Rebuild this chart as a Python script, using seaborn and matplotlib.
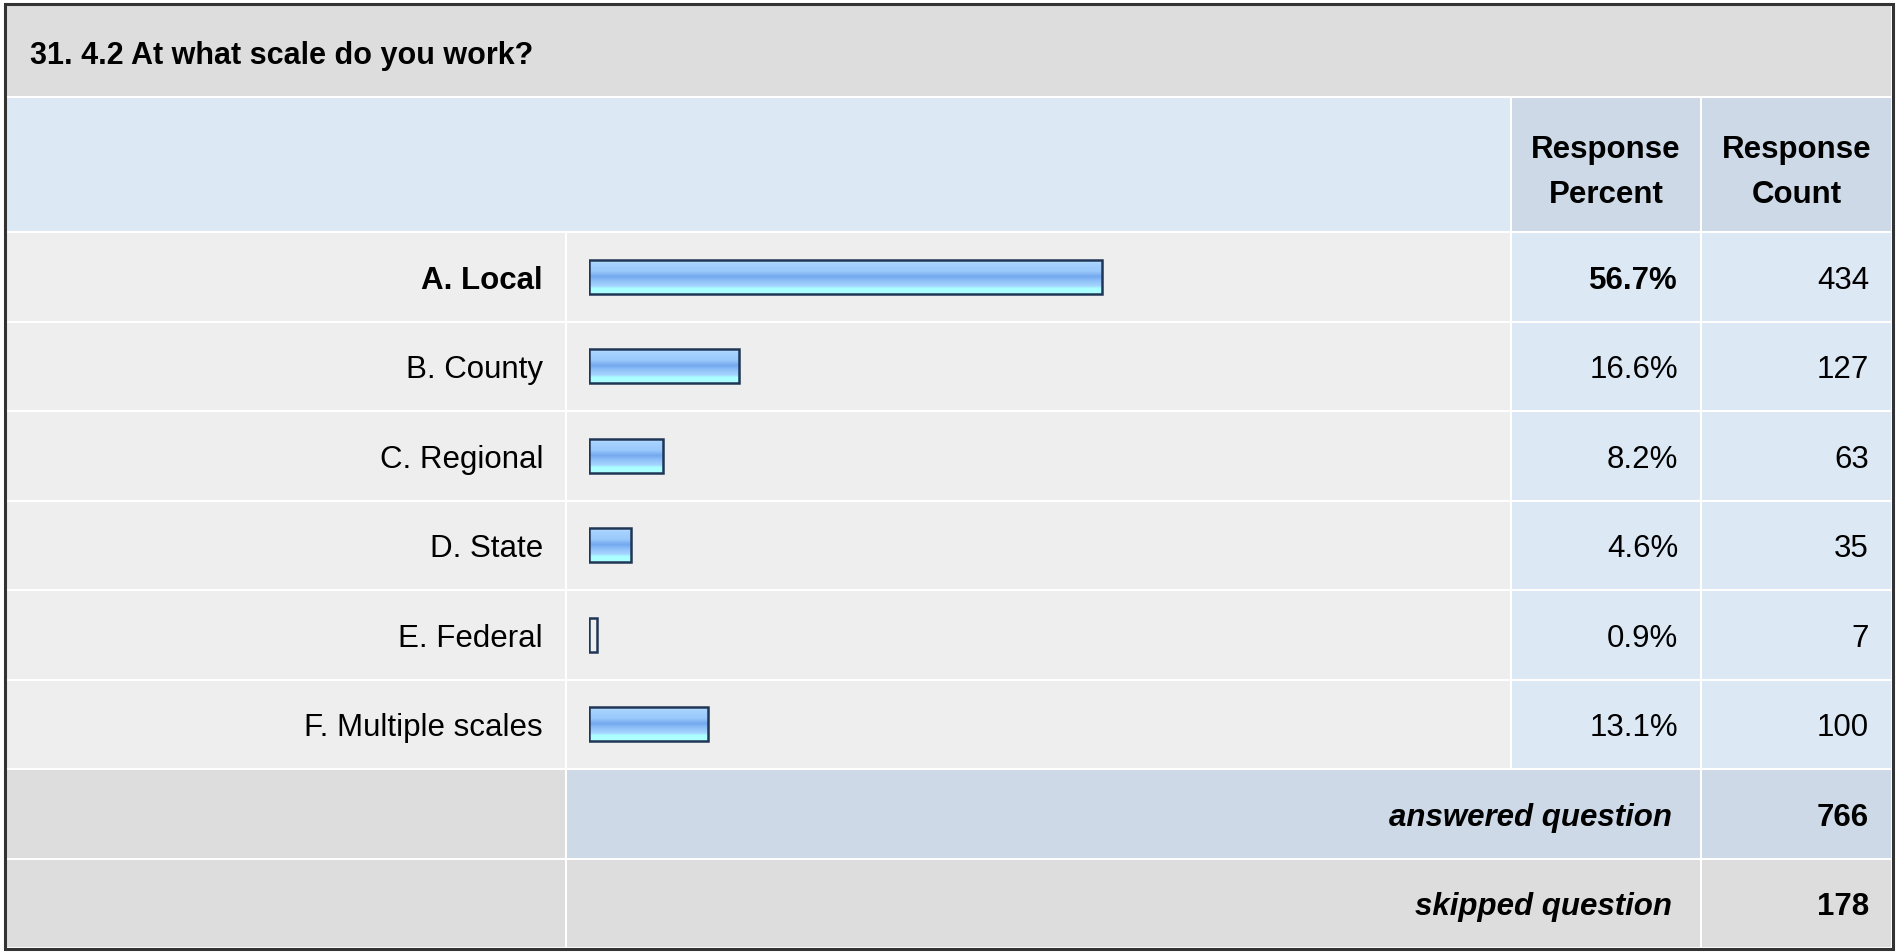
import matplotlib
matplotlib.use("Agg")
import numpy as np
import matplotlib.pyplot as plt
from matplotlib.patches import Rectangle
from matplotlib.colors import to_rgb
import seaborn as sns

title = "31. 4.2 At what scale do you work?"
categories = ["A. Local", "B. County", "C. Regional", "D. State", "E. Federal", "F. Multiple scales"]
percents = [56.7, 16.6, 8.2, 4.6, 0.9, 13.1]
counts = [434, 127, 63, 35, 7, 100]
answered = 766
skipped = 178

W, H = 1897, 952
sns.set_theme(style="white")
plt.rcParams['font.family'] = ['Liberation Sans', 'DejaVu Sans']
plt.rcParams['text.color'] = 'black'
FS = 22.5
DY = 4  # nudge text down a little

fig = plt.figure(figsize=(W / 100, H / 100), dpi=100)
fig.patch.set_facecolor("white")
bg = fig.add_axes([0, 0, 1, 1])
bg.set_xlim(0, W)
bg.set_ylim(H, 0)
bg.axis("off")

GRAY = "#dddddd"
ROWGRAY = "#eeeeee"
LBLUE = "#dde8f5"
MBLUE = "#cdd9e6"

# column / row edges of the table (pixels)
x_left, x_lab, x_pct, x_cnt, x_right = 6, 566, 1511, 1701, 1892
y_top, y_title, y_head = 5, 97, 232
row_h = 89.5
n = len(categories)


def cell(x0, x1, y0, y1, color):
    bg.add_patch(Rectangle((x0 + 1, y0 + 1), x1 - x0 - 2, y1 - y0 - 2,
                           facecolor=color, edgecolor="none"))


cell(x_left, x_right, y_top, y_title, GRAY)
cell(x_left, x_pct, y_title, y_head, LBLUE)
cell(x_pct, x_cnt, y_title, y_head, MBLUE)
cell(x_cnt, x_right, y_title, y_head, MBLUE)
bg.text(30, (y_top + y_title) / 2 + 5, title, fontsize=22, fontweight="bold",
        ha="left", va="center")
for xc, word in [((x_pct + x_cnt) / 2, "Percent"), ((x_cnt + x_right) / 2, "Count")]:
    bg.text(xc, 146 + DY, "Response", fontsize=FS, fontweight="bold", ha="center", va="center")
    bg.text(xc, 191 + DY, word, fontsize=FS, fontweight="bold", ha="center", va="center")

top_i = int(np.argmax(counts))
for i, (cat, p, c) in enumerate(zip(categories, percents, counts)):
    y0 = y_head + i * row_h
    y1 = y0 + row_h
    yc = (y0 + y1) / 2 + DY
    cell(x_left, x_lab, y0, y1, ROWGRAY)
    cell(x_lab, x_pct, y0, y1, ROWGRAY)
    cell(x_pct, x_cnt, y0, y1, LBLUE)
    cell(x_cnt, x_right, y0, y1, LBLUE)
    w = "bold" if i == top_i else "normal"
    bg.text(543, yc, cat, fontsize=FS, fontweight=w, ha="right", va="center")
    bg.text(1678, yc, f"{p:.1f}%", fontsize=FS, fontweight=w, ha="right", va="center")
    bg.text(1869, yc, str(c), fontsize=FS, ha="right", va="center")

# footer rows
y0 = y_head + n * row_h
y1 = y0 + row_h
cell(x_left, x_lab, y0, y1, GRAY)
cell(x_lab, x_cnt, y0, y1, MBLUE)
cell(x_cnt, x_right, y0, y1, MBLUE)
bg.text(1672, (y0 + y1) / 2 + DY, "answered question", fontsize=FS, fontweight="bold",
        fontstyle="italic", ha="right", va="center")
bg.text(1869, (y0 + y1) / 2 + DY, str(answered), fontsize=FS, fontweight="bold", ha="right", va="center")
y0, y1 = y1, y1 + row_h
cell(x_left, x_lab, y0, y1, GRAY)
cell(x_lab, x_cnt, y0, y1, GRAY)
cell(x_cnt, x_right, y0, y1, GRAY)
bg.text(1672, (y0 + y1) / 2 + DY, "skipped question", fontsize=FS, fontweight="bold",
        fontstyle="italic", ha="right", va="center")
bg.text(1869, (y0 + y1) / 2 + DY, str(skipped), fontsize=FS, fontweight="bold", ha="right", va="center")

bg.add_patch(Rectangle((x_left - 1, y_top - 1), x_right - x_left + 2, y1 - y_top + 2,
                       facecolor="none", edgecolor="#333333", linewidth=2.2))

# bar area: 0..100% spans 589..1494 px
bx0, bx1 = 589, 1494
ax = fig.add_axes([bx0 / W, 1 - (y_head + n * row_h) / H, (bx1 - bx0) / W, n * row_h / H])
ax.patch.set_alpha(0)
sns.barplot(x=percents, y=categories, orient="h", ax=ax, width=0.38,
            color="#99ccff", edgecolor="#1f3656", linewidth=1.8)
ax.set_xlim(0, 100)
ax.set_ylim(n - 0.5, -0.5)
ax.axis("off")

stops = [(0.0, "#cfe8ff"), (0.12, "#a6d2ff"), (0.35, "#99c8fb"), (0.5, "#74a8ef"),
         (0.62, "#8ec0f8"), (0.78, "#a6d6ff"), (0.84, "#aaffff"), (1.0, "#b0ffff")]
t = np.linspace(0, 1, 64)
grad = np.array([[np.interp(tt, [s[0] for s in stops], [to_rgb(s[1])[k] for s in stops]) for k in range(3)]
                 for tt in t]).reshape(-1, 1, 3)
for bar in ax.patches:
    x, y, w, h = bar.get_x(), bar.get_y(), bar.get_width(), bar.get_height()
    if w < 1.5:
        bar.set_facecolor("#eeeeee")
        continue
    im = ax.imshow(grad, extent=(x, x + w, y + h, y), aspect="auto", zorder=1,
                   interpolation="bilinear")
    im.set_clip_path(bar)
    bar.set_zorder(2)
    bar.set_facecolor("none")
ax.set_xlim(0, 100)
ax.set_ylim(n - 0.5, -0.5)

fig.savefig("out.png", dpi=100)
